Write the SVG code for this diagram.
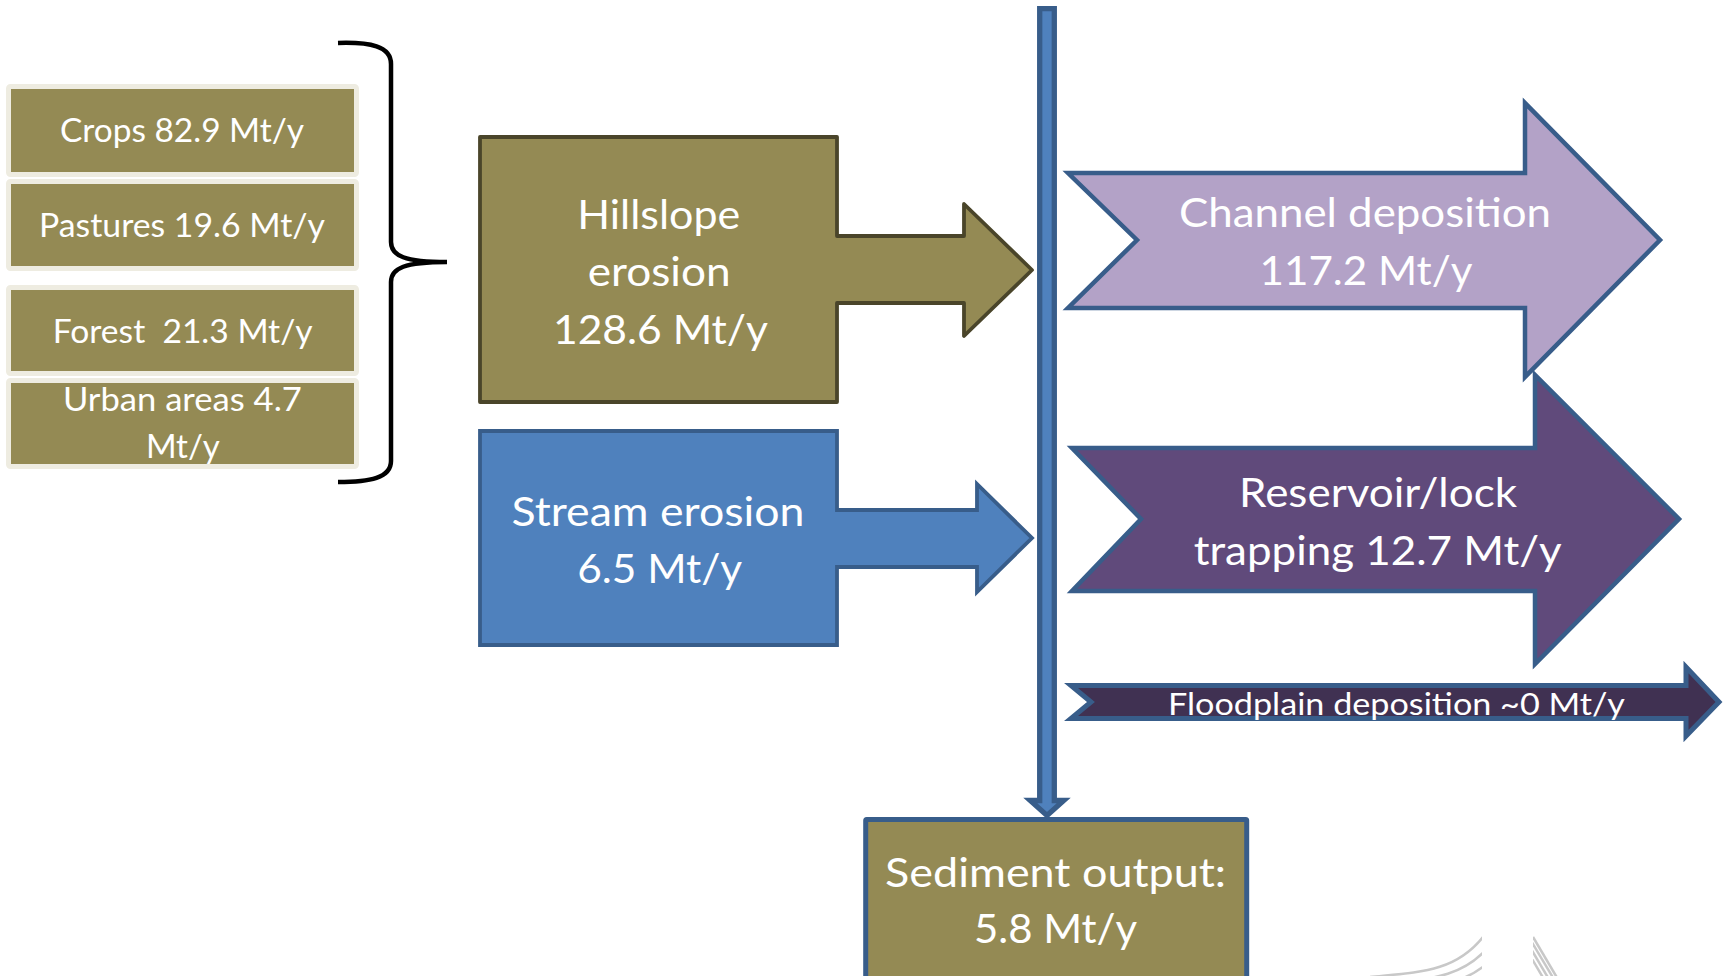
<svg xmlns="http://www.w3.org/2000/svg" width="1723" height="976" viewBox="0 0 1723 976">
  <style>
    .t { font-family: Lato, "Open Sans", "Liberation Sans", sans-serif; fill: #ffffff; text-anchor: middle; }
    .big { font-size: 41px; }
    .small { font-size: 32px; }
    .flood { font-size: 30px; }
    .land { fill: #948A54; stroke: #EEECE1; stroke-width: 5; }
    .olive { fill: #948A54; }
    .edge { stroke: #385D8A; stroke-linejoin: miter; }
    .deco { fill: none; stroke: #C8C8C8; stroke-width: 2.5; }
  </style>
  <defs>
    <clipPath id="decoLeft"><rect x="1360" y="930" width="122" height="46"/></clipPath>
    <clipPath id="decoRight"><rect x="1533" y="930" width="60" height="46"/></clipPath>
  </defs>

  <rect width="1723" height="976" fill="#ffffff"/>

  <!-- land-use sources -->
  <g id="crops">
    <rect class="land" x="8.5" y="86.5" width="348" height="88" rx="2"/>
    <text class="t small" x="182" y="142" textLength="244" lengthAdjust="spacingAndGlyphs">Crops 82.9 Mt/y</text>
  </g>
  <g id="pastures">
    <rect class="land" x="8.5" y="181.5" width="348" height="87" rx="2"/>
    <text class="t small" x="182" y="237" textLength="286" lengthAdjust="spacingAndGlyphs">Pastures 19.6 Mt/y</text>
  </g>
  <g id="forest">
    <rect class="land" x="8.5" y="287.5" width="348" height="86" rx="2"/>
    <text class="t small" x="182.7" y="343" textLength="260" lengthAdjust="spacingAndGlyphs" xml:space="preserve">Forest  21.3 Mt/y</text>
  </g>
  <g id="urban">
    <rect class="land" x="8.5" y="380.5" width="348" height="86" rx="2"/>
    <text class="t small" x="182.4" y="411" textLength="239" lengthAdjust="spacingAndGlyphs">Urban areas 4.7</text>
    <text class="t small" x="182.9" y="458" textLength="74" lengthAdjust="spacingAndGlyphs">Mt/y</text>
  </g>

  <!-- brace grouping the land-use sources -->
  <g id="brace">
    <path d="M338,43 C370,42 391,46 391,64 L391,242 C391,256 405,262 447,262 C405,262 391,268 391,282 L391,461 C391,478 370,482 338,482" fill="none" stroke="#000000" stroke-width="4.5"/>
  </g>

  <!-- erosion sources -->
  <g id="hillslope">
    <path class="olive" d="M480,137 H837 V236 H964 V204 L1032,270 L964,336 V303 H837 V402 H480 Z" stroke="#4A452A" stroke-width="3.8" stroke-linejoin="round"/>
    <text class="t big" x="658.7" y="228.5" textLength="163" lengthAdjust="spacingAndGlyphs">Hillslope</text>
    <text class="t big" x="659.2" y="286" textLength="143" lengthAdjust="spacingAndGlyphs">erosion</text>
    <text class="t big" x="660.5" y="344" textLength="215" lengthAdjust="spacingAndGlyphs">128.6 Mt/y</text>
  </g>
  <g id="stream">
    <path d="M480,431 H837 V510 H977 V484 L1032,538 L977,592 V567 H837 V645 H480 Z" fill="#4F81BD" class="edge" stroke-width="3.8" stroke-linejoin="round"/>
    <text class="t big" x="658" y="526" textLength="293" lengthAdjust="spacingAndGlyphs">Stream erosion</text>
    <text class="t big" x="659.7" y="582.5" textLength="165" lengthAdjust="spacingAndGlyphs">6.5 Mt/y</text>
  </g>

  <!-- sinks -->
  <g id="channel">
    <path d="M1068,173 H1525 V103 L1660,240 L1525,377 V308 H1068 L1137,240 Z" fill="#B3A2C7" class="edge" stroke-width="4.5"/>
    <text class="t big" x="1365" y="227" textLength="372" lengthAdjust="spacingAndGlyphs">Channel deposition</text>
    <text class="t big" x="1366" y="285" textLength="213" lengthAdjust="spacingAndGlyphs">117.2 Mt/y</text>
  </g>
  <g id="reservoir">
    <path d="M1072,448 H1535 V375 L1679,519 L1535,664 V591 H1072 L1141,519 Z" fill="#604A7B" class="edge" stroke-width="4.5"/>
    <text class="t big" x="1378" y="507" textLength="278" lengthAdjust="spacingAndGlyphs">Reservoir/lock</text>
    <text class="t big" x="1377.7" y="565" textLength="368" lengthAdjust="spacingAndGlyphs">trapping 12.7 Mt/y</text>
  </g>
  <g id="floodplain">
    <path d="M1071,685.5 H1686 V667 L1719,702 L1686,736 V718.5 H1071 L1091,702 Z" fill="#403152" class="edge" stroke-width="5"/>
    <text class="t flood" x="1396.5" y="715" textLength="457" lengthAdjust="spacingAndGlyphs">Floodplain deposition ~0 Mt/y</text>
  </g>

  <!-- outlet -->
  <g id="sediment-output">
    <rect class="olive edge" x="865.7" y="819.5" width="381" height="180" stroke-width="5" rx="1"/>
    <text class="t big" x="1055.6" y="887" textLength="341" lengthAdjust="spacingAndGlyphs">Sediment output:</text>
    <text class="t big" x="1055.5" y="943" textLength="163" lengthAdjust="spacingAndGlyphs">5.8 Mt/y</text>
  </g>

  <!-- main river trunk carrying sediment down to the outlet -->
  <g id="connectors">
    <path d="M1039.7,8.7 H1054.3 V800.5 H1063.8 L1047,815.5 L1030.2,800.5 H1039.7 Z" fill="#4F81BD" class="edge" stroke-width="5.3"/>
  </g>

  <!-- faint background ornament, bottom right -->
  <g id="ornament">
    <g clip-path="url(#decoLeft)">
      <path class="deco" d="M1370,977 C1420,972 1455,972 1483,937"/>
      <path class="deco" d="M1378,984 C1428,979 1463,979 1491,944"/>
      <path class="deco" d="M1386,991 C1436,986 1471,986 1499,951"/>
      <path class="deco" d="M1394,998 C1444,993 1479,993 1507,958"/>
    </g>
    <g clip-path="url(#decoRight)">
      <path class="deco" d="M1533,937 L1559,981"/>
      <path class="deco" d="M1527,934 L1555,981"/>
      <path class="deco" d="M1521,932 L1550,981"/>
      <path class="deco" d="M1515,930 L1545,981"/>
    </g>
  </g>
</svg>
